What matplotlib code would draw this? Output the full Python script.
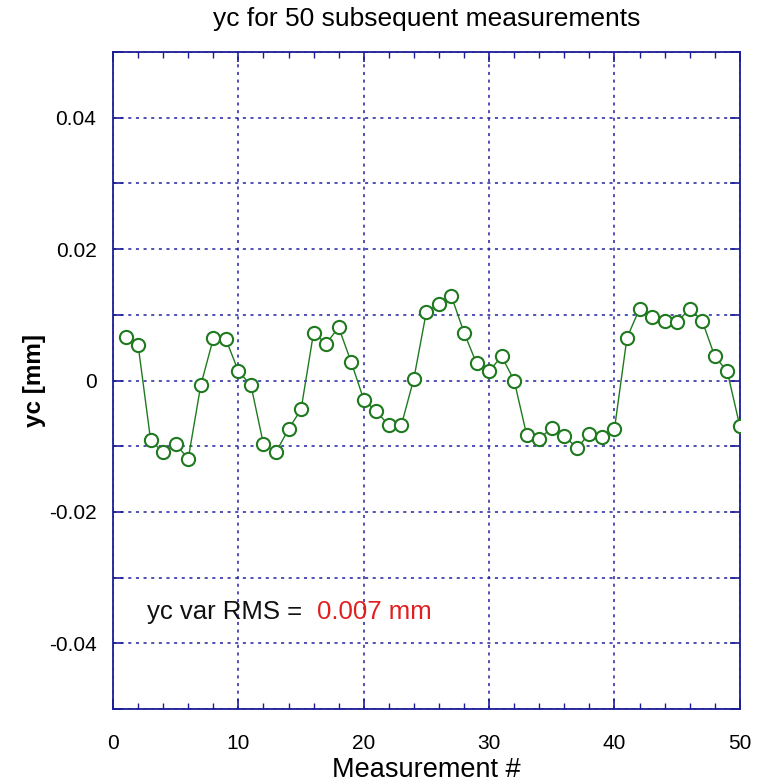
import numpy as np
import matplotlib.pyplot as plt
from matplotlib.ticker import MultipleLocator, FuncFormatter

plt.rcParams['font.family'] = ['Liberation Sans', 'DejaVu Sans']

# measurement index and yc values (mm)
meas = np.arange(1, 51)
yc = [0.0067, 0.0054, -0.0091, -0.0109, -0.0097, -0.0119, -0.0007, 0.0064, 0.0063, 0.0014,
      -0.0007, -0.0097, -0.0109, -0.0074, -0.0044, 0.0073, 0.0056, 0.0081, 0.0028, -0.0029,
      -0.0047, -0.0068, -0.0068, 0.0003, 0.0105, 0.0116, 0.0128, 0.0073, 0.0026, 0.0014,
      0.0037, 0.0000, -0.0083, -0.0089, -0.0072, -0.0084, -0.0103, -0.0081, -0.0086, -0.0074,
      0.0065, 0.0109, 0.0096, 0.0090, 0.0089, 0.0109, 0.0091, 0.0037, 0.0014, -0.0069]
rms_text = '0.007 mm'

frame = '#1c1c96'
green = '#1f7a1f'

fig = plt.figure(figsize=(7.69, 7.82), dpi=100)
ax = fig.add_axes([0.147, 0.0934, 0.815, 0.840])

ax.plot(meas, yc, '-', color=green, lw=1.0, marker='o', ms=9.5,
        mfc='white', mec=green, mew=1.5, zorder=3)

ax.set_xlim(0, 50)
ax.set_ylim(-0.05, 0.05)
ax.xaxis.set_major_locator(MultipleLocator(10))
ax.xaxis.set_minor_locator(MultipleLocator(2))
ax.yaxis.set_major_locator(MultipleLocator(0.01))

def ylab(v, pos):
    k = int(round(v / 0.01))
    if k % 2 or abs(k) >= 5:
        return ''
    return '0' if k == 0 else '%.2f' % v

ax.yaxis.set_major_formatter(FuncFormatter(ylab))
ax.xaxis.set_major_formatter(FuncFormatter(lambda v, p: '%d' % v))

ax.tick_params(which='both', direction='in', top=True, right=True,
               color=frame, labelsize=15)
ax.tick_params(axis='x', pad=18)
ax.tick_params(axis='y', pad=12)
ax.tick_params(which='major', length=7, width=1.2)
ax.tick_params(which='minor', length=4, width=1.0)
for s in ax.spines.values():
    s.set_color(frame)
    s.set_linewidth(1.3)

ax.grid(True, which='major', color='#2020a0', ls=(0, (2, 3)), lw=1.1)

ax.set_title('yc for 50 subsequent measurements', fontsize=19, pad=19)
ax.set_xlabel('Measurement #', fontsize=19.5, labelpad=3)
ax.set_ylabel('yc [mm]', fontsize=17.5, fontweight='bold', labelpad=2)

ax.text(2.7, -0.0352, 'yc var RMS = ', fontsize=18.5, color='#111111', va='center')
ax.text(16.3, -0.0352, rms_text, fontsize=18.5, color='#e02020', va='center')

fig.savefig('out.png', dpi=100, facecolor='white')
